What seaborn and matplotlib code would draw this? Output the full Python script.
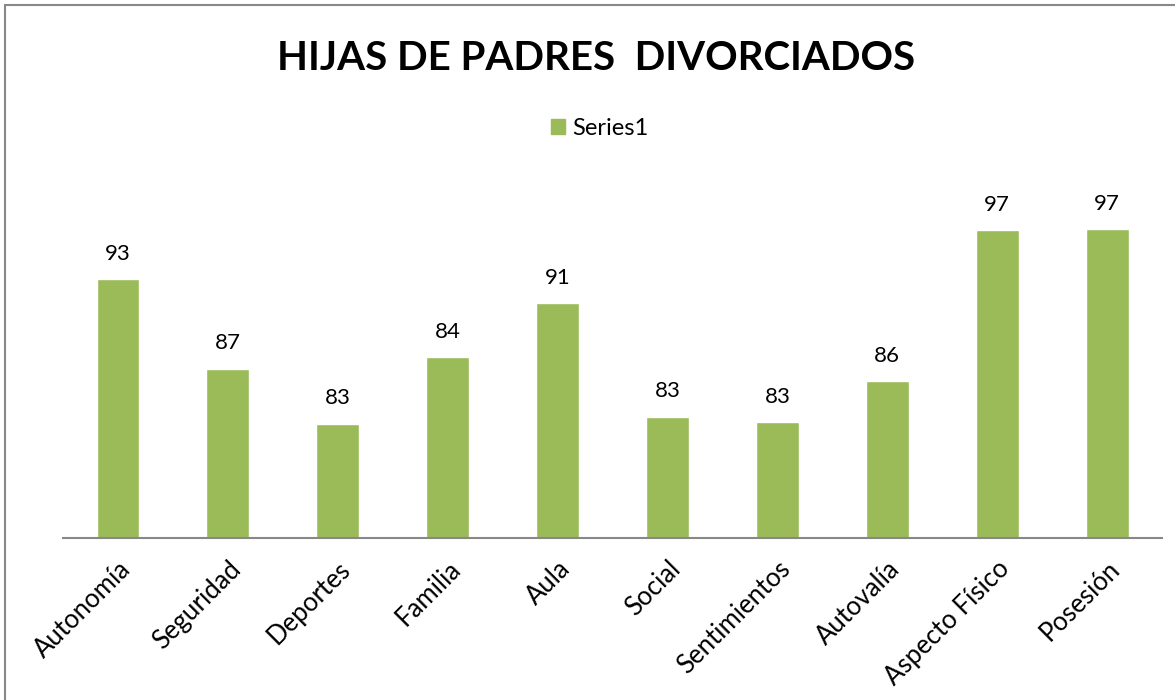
import numpy as np
import pandas as pd
import seaborn as sns
import matplotlib
matplotlib.use('Agg')
import matplotlib.pyplot as plt
import matplotlib.patches as patches

categories = ['Autonomía', 'Seguridad', 'Deportes', 'Familia', 'Aula',
              'Social', 'Sentimientos', 'Autovalía', 'Aspecto Físico', 'Posesión']
# bar heights as drawn, labels as printed
heights = [92.6, 84.8, 80.0, 85.8, 90.5, 80.6, 80.1, 83.7, 96.9, 97.0]
labels = [93, 87, 83, 84, 91, 83, 83, 86, 97, 97]

green = '#9BBB59'

sns.set_style('white')
plt.rcParams['font.family'] = ['Lato', 'DejaVu Sans']
plt.rcParams['text.color'] = 'black'
plt.rcParams['xtick.color'] = 'black'

df = pd.DataFrame({'cat': categories, 'value': heights})

fig = plt.figure(figsize=(11.75, 7), dpi=100)
ax = fig.add_axes([0.0536, 0.2314, 0.9354, 0.5543])

sns.barplot(ax=ax, data=df, x='cat', y='value', color=green,
            width=0.39, saturation=1)

ax.set_ylim(70, 103.9)
ax.set_xlim(-0.5, len(categories) - 0.5)

for i, (h, lab) in enumerate(zip(heights, labels)):
    ax.annotate(str(lab), (i, h), xytext=(0, 11), textcoords='offset points',
                ha='center', va='bottom', fontsize=16)

ax.set_xlabel('')
ax.set_ylabel('')
ax.set_yticks([])
ax.set_xticks(range(len(categories)))
ax.set_xticklabels(categories, rotation=45, ha='right',
                   rotation_mode='anchor', fontsize=18.5)
ax.tick_params(axis='x', length=0, pad=13, labelcolor='black')
for s in ['top', 'right', 'left']:
    ax.spines[s].set_visible(False)
ax.spines['bottom'].set_color('#888888')
ax.spines['bottom'].set_linewidth(1.5)

fig.text(0.507, 0.917, 'HIJAS DE PADRES  DIVORCIADOS', ha='center',
         va='center', fontsize=29, fontweight='bold', color='black')

handle = patches.Patch(color=green, label='Series1')
fig.legend(handles=[handle], loc='center', bbox_to_anchor=(0.51, 0.817),
           frameon=False, fontsize=17, handlelength=0.6, handleheight=0.6,
           handletextpad=0.3)

# outer chart frame
fig.patches.append(patches.Rectangle((0.004, -0.05), 1.1, 1.043,
                                     transform=fig.transFigure, fill=False,
                                     edgecolor='#888888', linewidth=1.5))

fig.savefig('out.png', dpi=100)
